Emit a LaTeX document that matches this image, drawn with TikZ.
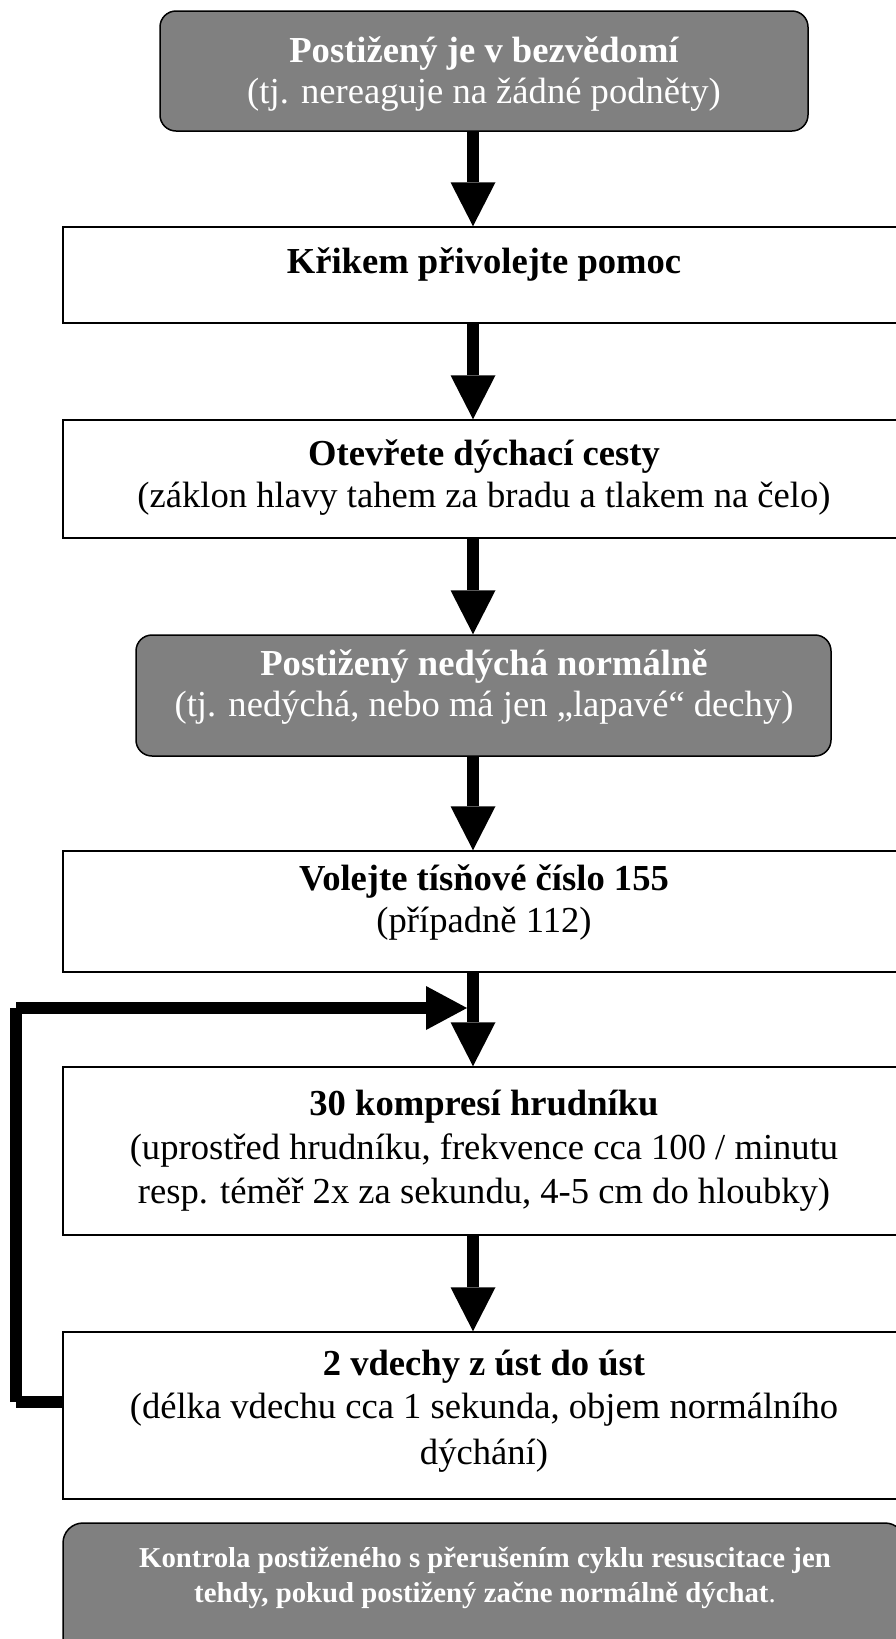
\documentclass[tikz,border=0pt]{standalone}
\usepackage{fontspec}
\setmainfont{Liberation Serif}
\usetikzlibrary{arrows.meta}
\definecolor{boxgray}{RGB}{128,128,128}
\begin{document}
\begin{tikzpicture}[x=1pt,y=-1pt,
  gbox/.style={draw=black, line width=1.5pt, fill=boxgray, rounded corners=16pt, inner sep=0pt},
  wbox/.style={draw=black, line width=1.5pt, fill=white, inner sep=0pt},
  hb/.style={font=\fontsize{36.6}{42}\selectfont\bfseries, inner sep=0pt, anchor=base},
  rt/.style={font=\fontsize{36.6}{42}\selectfont, inner sep=0pt, anchor=base},
  sb/.style={font=\fontsize{28.8}{35}\selectfont\bfseries, inner sep=0pt, anchor=base},
  arr/.style={line width=12pt, -{Triangle[length=44pt,width=45pt,line width=0pt]}},
  loopline/.style={line width=12pt, line cap=butt}
]
\useasboundingbox (0,0) rectangle (896,1639);
\clip (0,0) rectangle (896,1639);
\fill[white] (0,0) rectangle (896,1639);

% boxes
\node[gbox, minimum width=648pt, minimum height=120pt] (b1) at (484,71) {};
\node[wbox, minimum width=842pt, minimum height=96pt] (b2) at (484,275) {};
\node[wbox, minimum width=842pt, minimum height=118pt] (b3) at (484,479) {};
\node[gbox, minimum width=695pt, minimum height=121pt] (b4) at (483.5,695.5) {};
\node[wbox, minimum width=842pt, minimum height=121pt] (b5) at (484,911.5) {};
\node[wbox, minimum width=842pt, minimum height=168pt] (b6) at (484,1151) {};
\node[wbox, minimum width=842pt, minimum height=167pt] (b7) at (484,1415.5) {};
\node[gbox, rounded corners=20pt, minimum width=842pt, minimum height=170pt] (b8) at (484,1608) {};

% texts
\node[hb, text=white] (t1a) at (484,62) {Postižený je v bezvědomí};
\node[rt, text=white] (t1b) at (484,103) {(tj. nereaguje na žádné podněty)};
\node[hb] (t2a) at (484,273) {Křikem přivolejte pomoc};
\node[hb] (t3a) at (484,465) {Otevřete dýchací cesty};
\node[rt] (t3b) at (484,507) {(záklon hlavy tahem za bradu a tlakem na čelo)};
\node[hb, text=white] (t4a) at (484,675) {Postižený nedýchá normálně};
\node[rt, text=white] (t4b) at (484,716) {(tj. nedýchá, nebo má jen „lapavé“ dechy)};
\node[hb] (t5a) at (484,890) {Volejte tísňové číslo 155};
\node[rt] (t5b) at (484,932) {(případně 112)};
\node[hb] (t6a) at (484,1115) {30 kompresí hrudníku};
\node[rt] (t6b) at (484,1159) {(uprostřed hrudníku, frekvence cca 100 / minutu};
\node[rt] (t6c) at (484,1203) {resp. téměř 2x za sekundu, 4-5 cm do hloubky)};
\node[hb] (t7a) at (484,1375) {2 vdechy z úst do úst};
\node[rt] (t7b) at (484,1418) {(délka vdechu cca 1 sekunda, objem normálního};
\node[rt] (t7c) at (484,1464) {dýchání)};
\node[sb, text=white] (t8a) at (485,1567) {Kontrola postiženého s přerušením cyklu resuscitace jen};
\node[sb, text=white] (t8b) at (485,1602) {tehdy, pokud postižený začne normálně dýchat\textmd{.}};

% connectors
\coordinate (ax) at (473,0);
\draw[arr] (b1.south -| ax) -- (b2.north -| ax);
\draw[arr] (b2.south -| ax) -- (b3.north -| ax);
\draw[arr] (b3.south -| ax) -- (b4.north -| ax);
\draw[arr] (b4.south -| ax) -- (b5.north -| ax);
\draw[arr] (b5.south -| ax) -- (b6.north -| ax);
\draw[arr] (b6.south -| ax) -- (b7.north -| ax);

% loop back
\coordinate (lb) at (16,1402);
\coordinate (lt) at (16,1008);
\coordinate (mj) at (467,1008);
\draw[loopline] (b7.west |- lb) -- (lb);
\draw[loopline] (lb) -- (lt);
\draw[loopline, -{Triangle[length=41pt,width=44pt,line width=0pt]}] (lt) -- (mj);
\end{tikzpicture}
\end{document}
